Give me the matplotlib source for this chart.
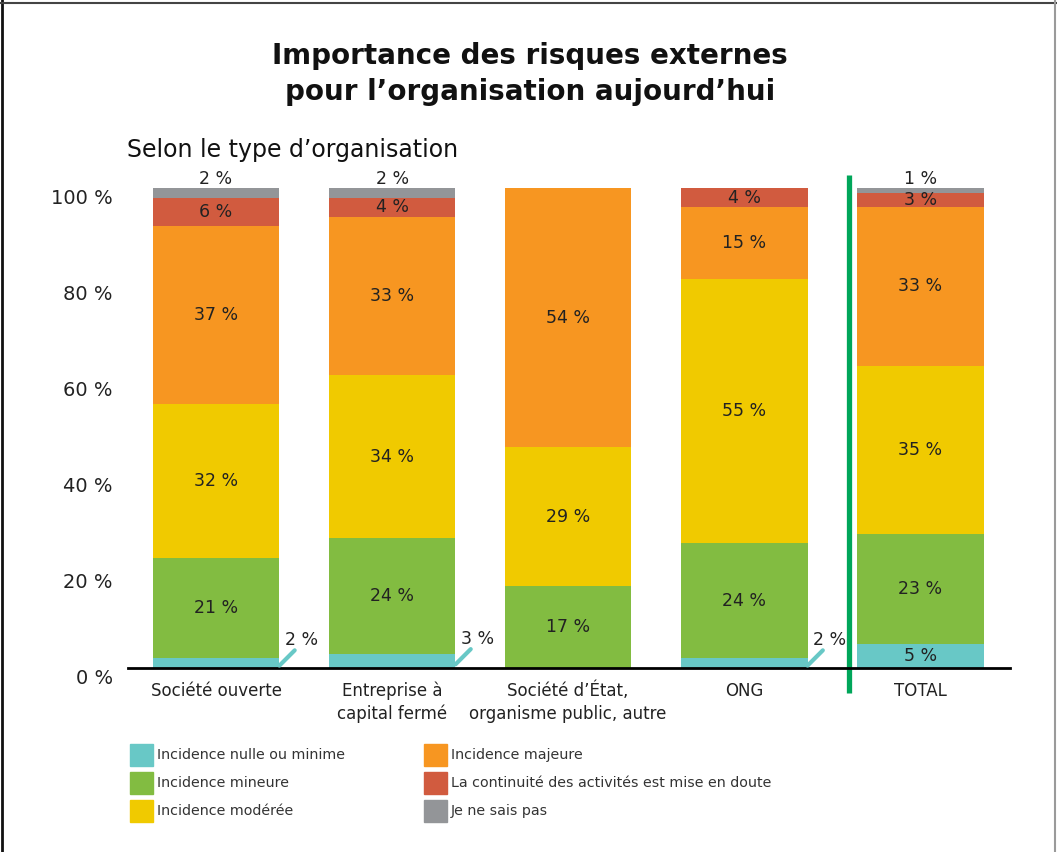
import matplotlib
matplotlib.use("Agg")
import matplotlib.pyplot as plt
import matplotlib.transforms as mtransforms
from matplotlib.patches import Rectangle
from matplotlib.lines import Line2D

plt.rcParams['font.family'] = ['DejaVu Sans']

categories = ["Société ouverte", "Entreprise à\ncapital fermé",
              "Société d’État,\norganisme public, autre", "ONG", "TOTAL"]
series_names = ["Incidence nulle ou minime", "Incidence mineure", "Incidence modérée",
                "Incidence majeure", "La continuité des activités est mise en doute",
                "Je ne sais pas"]
nulle = [2, 3, 0, 2, 5]
mineure = [21, 24, 17, 24, 23]
moderee = [32, 34, 29, 55, 35]
majeure = [37, 33, 54, 15, 33]
continuite = [6, 4, 0, 4, 3]
ne_sais_pas = [2, 2, 0, 0, 1]
series = [nulle, mineure, moderee, majeure, continuite, ne_sais_pas]
colors = ["#68C8C6", "#82BC41", "#F0CA00", "#F79621", "#D15B3F", "#939598"]

BAR_W = 0.72
W, H = 1057, 852
LBL = 12.5

fig = plt.figure(figsize=(W / 100, H / 100), dpi=100)
ax = fig.add_axes([128 / W, 1 - 668 / H, (1010 - 128) / W, (668 - 188) / H])

# frame lines on left, top and right (open at the bottom)
fig.add_artist(Line2D([2 / W, 2 / W], [0, 1], color="#111111", lw=2, transform=fig.transFigure))
fig.add_artist(Line2D([0, 1], [1 - 2.5 / H, 1 - 2.5 / H], color="#444444", lw=1.5, transform=fig.transFigure))
fig.add_artist(Line2D([1 - 2 / W, 1 - 2 / W], [0, 1], color="#9a9a9a", lw=1.5, transform=fig.transFigure))

x = range(len(categories))
bottom = [0] * len(categories)
for k, (vals, col) in enumerate(zip(series, colors)):
    ax.bar(x, vals, bottom=bottom, width=BAR_W, color=col, linewidth=0)
    for i, v in enumerate(vals):
        if v == 0:
            continue
        lab = f"{v} %"
        if k == 5:
            # "don't know" labels sit on top of the bar
            ax.text(i, bottom[i] + v, lab, ha="center", va="bottom", fontsize=LBL, color="#222222")
        elif k == 0 and v < 4:
            # small values get a callout to the right of the bar
            xr = i + BAR_W / 2
            ax.annotate("", xy=(xr, v * 0.25), xytext=(11, 11), textcoords="offset points",
                        arrowprops=dict(arrowstyle="-", color=col, lw=3, shrinkA=0, shrinkB=0))
            ax.annotate(lab, xy=(xr, v * 0.25), xytext=(4, 12), textcoords="offset points",
                        ha="left", va="bottom", fontsize=LBL, color="#222222")
        else:
            ax.text(i, bottom[i] + v / 2, lab, ha="center", va="center", fontsize=LBL, color="#222222")
    bottom = [b + v for b, v in zip(bottom, vals)]

# separator before the TOTAL column
sep_x = len(categories) - 1 - BAR_W / 2 - 0.045
ax.plot([sep_x, sep_x], [-5.2, 102.7], color="#00A65A", lw=3.8, clip_on=False, solid_capstyle="butt")

ax.set_xlim(-0.5, 4.51)
ax.set_ylim(0, 100)
ax.set_xticks(list(x))
ax.set_xticklabels(categories, fontsize=12, color="#222222", linespacing=1.3)
ax.set_yticks([0, 20, 40, 60, 80, 100])
ax.set_yticklabels(["0 %", "20 %", "40 %", "60 %", "80 %", "100 %"], fontsize=14, color="#222222")
ax.tick_params(axis="both", length=0)
ax.tick_params(axis="x", pad=10)
ax.tick_params(axis="y", pad=11)
offset = mtransforms.ScaledTranslation(0, -8 / 100, fig.dpi_scale_trans)
for t in ax.get_yticklabels():
    t.set_transform(t.get_transform() + offset)
for s in ["left", "right", "top"]:
    ax.spines[s].set_visible(False)
ax.spines["bottom"].set_linewidth(2)
ax.spines["bottom"].set_color("black")

fig.text(530 / W, 1 - 74 / H, "Importance des risques externes\npour l’organisation aujourd’hui",
         ha="center", va="center", fontsize=20, fontweight="bold", color="#111111", linespacing=1.4)
fig.text(127 / W, 1 - 150 / H, "Selon le type d’organisation", ha="left", va="center",
         fontsize=17, color="#111111")

# legend, two columns of three
for i, (name, col) in enumerate(zip(series_names, colors)):
    cx = [130, 424][i // 3]
    cy = 755 + 28 * (i % 3)
    fig.patches.append(Rectangle((cx / W, 1 - (cy + 11) / H), 23 / W, 22 / H,
                                 transform=fig.transFigure, color=col, figure=fig))
    fig.text((cx + 27) / W, 1 - cy / H, name, ha="left", va="center", fontsize=10.3, color="#333333")

fig.savefig("out.png", dpi=100)
